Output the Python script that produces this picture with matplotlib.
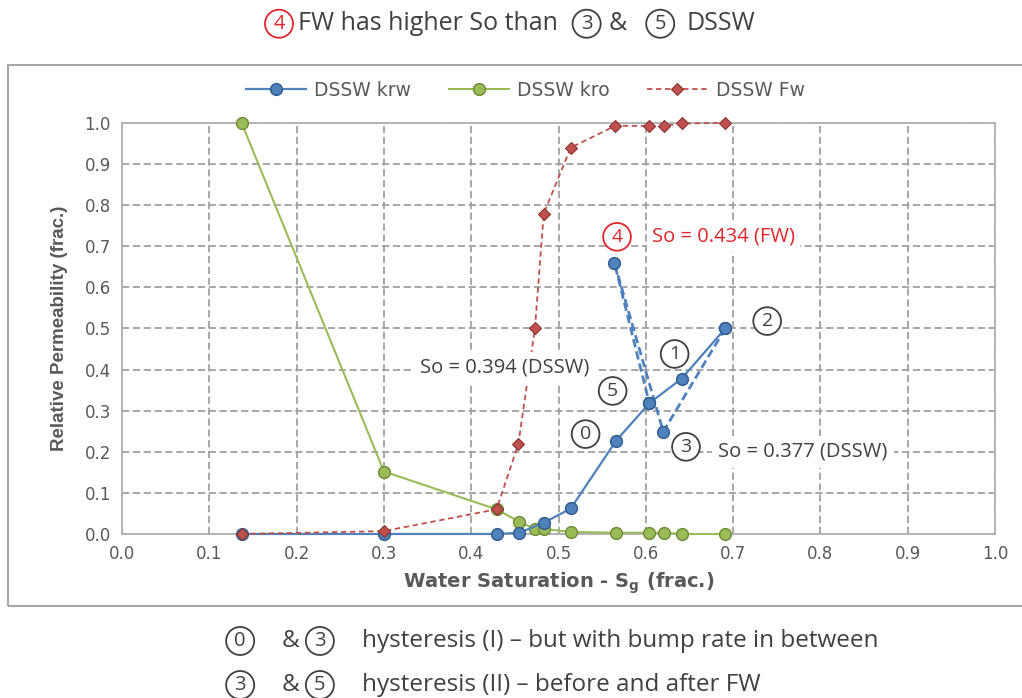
import matplotlib
matplotlib.use('Agg')
import matplotlib.pyplot as plt
from matplotlib.patches import Rectangle

# DSSW relative permeability data
sw_krw = [0.137, 0.300, 0.429, 0.455, 0.483, 0.514, 0.566, 0.604, 0.641, 0.691]
krw = [0.000, 0.000, 0.000, 0.003, 0.027, 0.062, 0.227, 0.318, 0.378, 0.500]

sw_kro = [0.137, 0.300, 0.429, 0.455, 0.473, 0.483, 0.514, 0.566, 0.604, 0.621, 0.641, 0.691]
kro = [1.000, 0.152, 0.060, 0.030, 0.012, 0.012, 0.005, 0.003, 0.003, 0.003, 0.000, 0.000]

sw_fw = [0.137, 0.300, 0.429, 0.454, 0.473, 0.483, 0.514, 0.565, 0.604, 0.621, 0.641, 0.691]
fw = [0.000, 0.007, 0.060, 0.219, 0.500, 0.779, 0.940, 0.993, 0.993, 0.993, 0.999, 1.000]

# hysteresis path 2 -> 3 -> 4 -> 5
sw_hyst = [0.691, 0.620, 0.564, 0.604]
krw_hyst = [0.500, 0.249, 0.660, 0.318]

x_ticks = [i / 10 for i in range(11)]
y_ticks = [i / 10 for i in range(11)]

BLUE, BLUE_E = '#4f81bd', '#2f5a8c'
GREEN, GREEN_E = '#9bbb59', '#6b8a35'
RED, RED_E = '#c0504d', '#8c3330'
TXT = '#404040'
ANN_RED = '#e0262b'

fig = plt.figure(figsize=(10.22, 6.98), dpi=100)
ax = fig.add_axes([0.1194, 0.235, 0.8542, 0.5888])

ax.plot(sw_kro, kro, '-o', color=GREEN, lw=1.5, ms=8.5, mfc=GREEN, mec=GREEN_E,
        mew=1.0, label='DSSW kro', zorder=3, clip_on=False)
ax.plot(sw_krw, krw, '-o', color=BLUE, lw=1.6, ms=8.5, mfc=BLUE, mec=BLUE_E,
        mew=1.0, label='DSSW krw', zorder=4, clip_on=False)
ax.plot(sw_hyst, krw_hyst, '--o', color=BLUE, lw=2.0, ms=8.5, mfc=BLUE, mec=BLUE_E,
        mew=1.0, dashes=(3, 1.5), zorder=4)
ax.plot(sw_fw, fw, '--D', color=RED, lw=1.3, ms=6.5, mfc=RED, mec=RED_E,
        mew=0.8, dashes=(3, 2), label='DSSW Fw', zorder=5, clip_on=False)

ax.set_xlim(0, 1)
ax.set_ylim(0, 1)
ax.set_xticks(x_ticks)
ax.set_yticks(y_ticks)
ax.set_xticklabels([f'{v:.1f}' for v in x_ticks])
ax.set_yticklabels([f'{v:.1f}' for v in y_ticks])
ax.tick_params(length=0, labelsize=12, colors='#595959', pad=8)
ax.grid(True, color='#a0a0a0', lw=1.3, linestyle=(0, (4, 2)))
ax.set_axisbelow(True)
for s in ax.spines.values():
    s.set_color('#b0b0b0')
    s.set_linewidth(1.3)

ax.set_xlabel('Water Saturation - S$_\\mathregular{g}$ (frac.)', fontsize=14,
              fontweight='bold', color='#595959', labelpad=5)
ax.set_ylabel('Relative Permeability (frac.)', fontsize=13.5, fontweight='bold',
              color='#595959', family=['Liberation Sans Narrow', 'Liberation Sans'],
              labelpad=12)

# legend order krw, kro, Fw
h, l = ax.get_legend_handles_labels()
order = [l.index('DSSW krw'), l.index('DSSW kro'), l.index('DSSW Fw')]
fig.legend([h[i] for i in order], [l[i] for i in order], loc='center',
           bbox_to_anchor=(0.514, 0.871), ncol=3, frameon=False, fontsize=13.5,
           handlelength=3.2, columnspacing=2.0, handletextpad=0.45,
           labelcolor='#595959')

ann_font = ['Open Sans', 'DejaVu Sans']


def circ(x, y, s, color=TXT, size=14):
    ax.text(x, y, s, ha='center', va='center', fontsize=size, color=color,
            family=ann_font,
            bbox=dict(boxstyle='circle,pad=0.25', fc='white', ec=color, lw=1.3),
            zorder=6)


circ(0.567, 0.723, '4', color=ANN_RED)
ax.text(0.607, 0.723, 'So = 0.434 (FW)', ha='left', va='center', fontsize=14.5,
        color=ANN_RED, family=ann_font, zorder=6,
        bbox=dict(boxstyle='square,pad=0.25', fc='white', ec='none'))
circ(0.633, 0.438, '1')
circ(0.739, 0.518, '2')
circ(0.562, 0.348, '5')
circ(0.531, 0.243, '0')
circ(0.646, 0.212, '3')
ax.text(0.341, 0.404, 'So = 0.394 (DSSW)', ha='left', va='center', fontsize=14.5,
        color=TXT, family=ann_font, zorder=6,
        bbox=dict(boxstyle='square,pad=0.3', fc='white', ec='none'))
ax.text(0.683, 0.200, 'So = 0.377 (DSSW)', ha='left', va='center', fontsize=14.5,
        color=TXT, family=ann_font, zorder=6,
        bbox=dict(boxstyle='square,pad=0.3', fc='white', ec='none'))

# chart area frame
fig.patches.append(Rectangle((0.0078, 0.132), 1.1, 0.775, transform=fig.transFigure,
                             fill=False, ec='#a6a6a6', lw=1.5))


def fcirc(x, y, s, color=TXT):
    fig.text(x, y, s, ha='center', va='center', fontsize=14.5, color=color,
             family=ann_font,
             bbox=dict(boxstyle='circle,pad=0.2', fc='white', ec=color, lw=1.3))


def ftxt(x, y, s, color=TXT, ha='left', size=18):
    fig.text(x, y, s, ha=ha, va='center', fontsize=size, color=color, family=ann_font)


# title line
fcirc(0.273, 0.966, '4', color=ANN_RED)
ftxt(0.2916, 0.966, 'FW has higher So than')
fcirc(0.574, 0.966, '3')
ftxt(0.604, 0.966, '&', ha='center')
fcirc(0.646, 0.966, '5')
ftxt(0.672, 0.966, 'DSSW')

# notes below
fcirc(0.235, 0.0817, '0')
ftxt(0.284, 0.0817, '&', ha='center', size=17.5)
fcirc(0.313, 0.0817, '3')
ftxt(0.354, 0.0817, 'hysteresis (I) – but with bump rate in between', size=17.5)

fcirc(0.235, 0.0186, '3')
ftxt(0.284, 0.0186, '&', ha='center', size=17.5)
fcirc(0.313, 0.0186, '5')
ftxt(0.354, 0.0186, 'hysteresis (II) – before and after FW', size=17.5)

fig.savefig('out.png', dpi=100)
